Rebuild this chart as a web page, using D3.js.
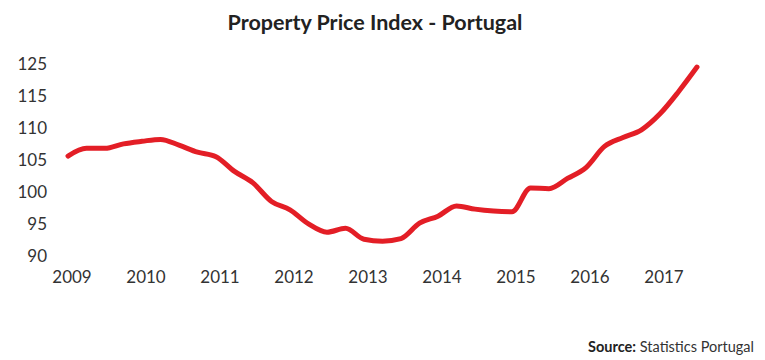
<!DOCTYPE html>
<html>
<head>
<meta charset="utf-8">
<script src="https://cdn.jsdelivr.net/npm/d3@7"></script>
<style>
  html, body { margin: 0; padding: 0; background: #fff; }
  svg { display: block; }
</style>
</head>
<body>
<svg id="chart" width="765" height="360"></svg>
<script>
// Quarterly index values, 2009 Q1 .. 2017 Q3
const quarters = d3.range(35).map(i => (2009 + Math.floor(i / 4)) + " Q" + (i % 4 + 1));
const values = [
  105.7, 106.9, 106.9, 107.6, 108.0, 108.3, 107.4, 106.3,
  105.6, 103.3, 101.5, 98.6, 97.3, 95.1, 93.8, 94.4,
  92.7, 92.4, 92.8, 95.2, 96.3, 97.9, 97.4, 97.1,
  97.0, 100.7, 100.6, 102.2, 103.9, 107.2, 108.6, 109.8,
  112.3, 115.75, 119.6
];
const xTickIndex = [0, 4, 8, 12, 16, 20, 24, 28, 32];
const xTickLabels = ["2009", "2010", "2011", "2012", "2013", "2014", "2015", "2016", "2017"];
const yTickValues = [90, 95, 100, 105, 110, 115, 120];
const yTickLabels = ["90", "95", "100", "105", "110", "115", "125"];

const svg = d3.select("#chart");
const font = "Lato, 'Open Sans', sans-serif";

const x = d3.scaleLinear().domain([0, values.length - 1]).range([68, 697]);
const y = d3.scaleLinear().domain([90, 120]).range([256.5, 64.5]);

// Title
svg.append("text")
  .attr("x", 375).attr("y", 30)
  .attr("text-anchor", "middle")
  .attr("font-family", font)
  .attr("font-weight", "bold")
  .attr("font-size", 21.5)
  .attr("fill", "#222")
  .text("Property Price Index - Portugal");

// Y axis
const yAxis = svg.append("g")
  .attr("transform", "translate(52,0)")
  .call(d3.axisLeft(y).tickValues(yTickValues).tickSize(0)
    .tickFormat((d, i) => yTickLabels[i]));
yAxis.select(".domain").remove();
yAxis.selectAll("text")
  .attr("x", -5)
  .attr("font-family", font)
  .attr("font-size", 17)
  .attr("fill", "#333");

// X axis
const xAxis = svg.append("g")
  .attr("transform", "translate(3.5,267)")
  .call(d3.axisBottom(x).tickValues(xTickIndex).tickSize(0)
    .tickFormat((d, i) => xTickLabels[i]));
xAxis.select(".domain").remove();
xAxis.selectAll("text")
  .attr("y", 0)
  .attr("dy", "0.95em")
  .attr("font-family", font)
  .attr("font-size", 17)
  .attr("fill", "#333");

// Line
const line = d3.line()
  .x((d, i) => x(i))
  .y(d => y(d))
  .curve(d3.curveMonotoneX);

svg.append("path")
  .datum(values)
  .attr("d", line)
  .attr("fill", "none")
  .attr("stroke", "#e31e26")
  .attr("stroke-width", 5)
  .attr("stroke-linecap", "round")
  .attr("stroke-linejoin", "round");

// Source
const src = svg.append("text")
  .attr("x", 754).attr("y", 352)
  .attr("text-anchor", "end")
  .attr("font-family", font)
  .attr("font-size", 14.5)
  .attr("fill", "#333");
src.append("tspan").attr("font-weight", "bold").attr("fill", "#222").text("Source:");
src.append("tspan").text(" Statistics Portugal");
</script>
</body>
</html>
